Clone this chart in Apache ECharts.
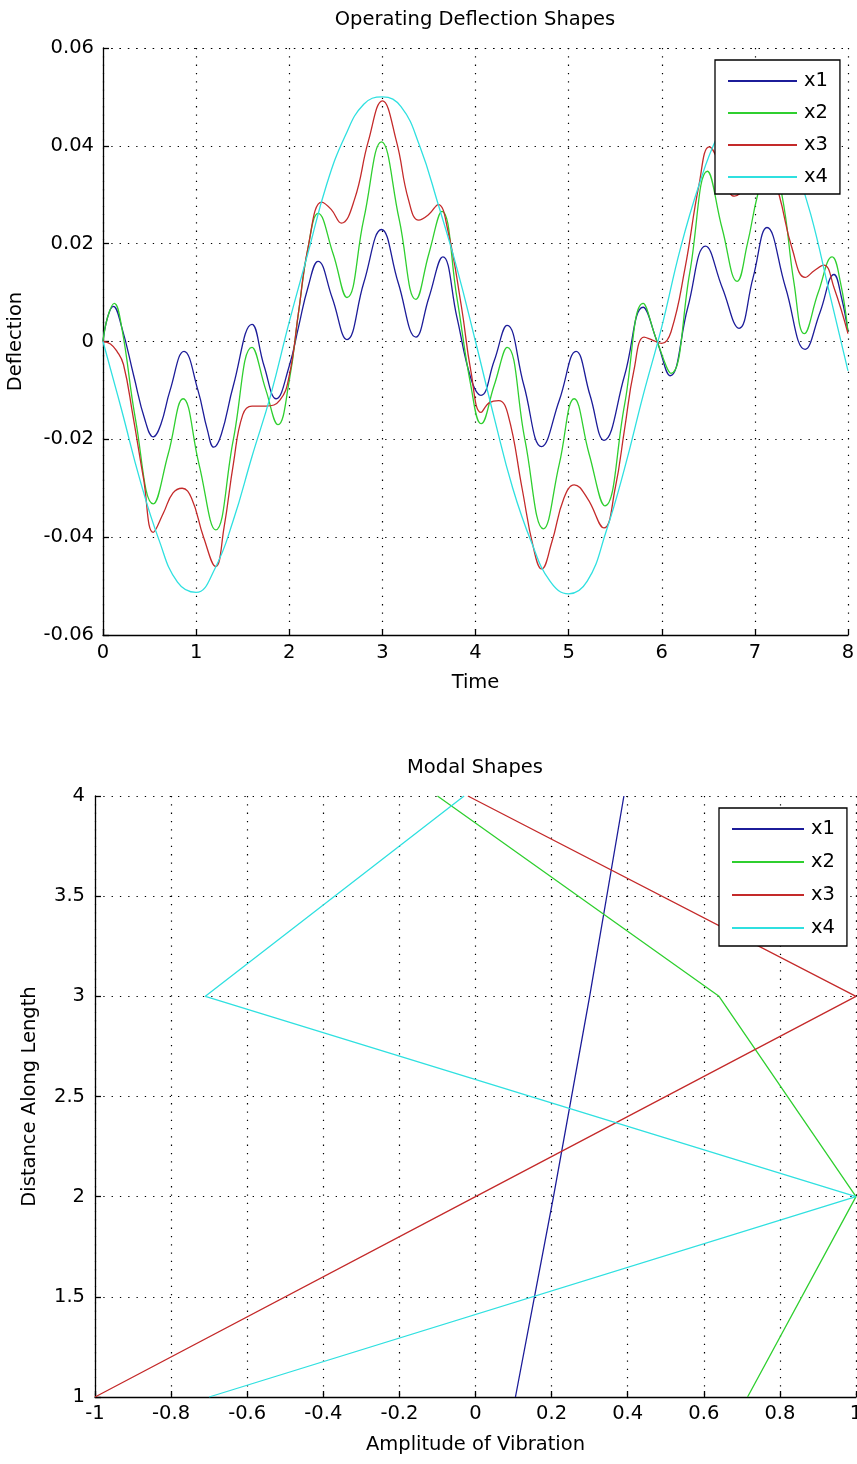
<!DOCTYPE html>
<html><head><meta charset="utf-8">
<script src="https://cdn.jsdelivr.net/npm/echarts@6/dist/echarts.min.js"></script>
<style>html,body{margin:0;padding:0;background:#fff}#c{width:857px;height:1464px}</style>
</head><body><div id="c"></div>
<script>
// ---------- Top chart: Operating Deflection Shapes (time, deflection) ----------
const seriesNames = ['x1', 'x2', 'x3', 'x4'];
const timeTicks = [0, 1, 2, 3, 4, 5, 6, 7, 8];
const deflectionTicks = [-0.06, -0.04, -0.02, 0, 0.02, 0.04, 0.06];

const odsX1 = [[0,0],[0.05,0.005],[0.11,0.0072],[0.2,0.003],[0.33,-0.007],[0.45,-0.016],[0.54,-0.0195],[0.62,-0.017],[0.72,-0.010],[0.87,-0.002],[1.02,-0.010],[1.12,-0.018],[1.19,-0.0216],[1.27,-0.019],[1.4,-0.009],[1.6,0.0035],[1.73,-0.005],[1.86,-0.0117],[2.0,-0.005],[2.1,0.003],[2.2,0.011],[2.31,0.0164],[2.46,0.009],[2.62,0.0004],[2.8,0.012],[2.99,0.0229],[3.17,0.012],[3.36,0.0009],[3.5,0.009],[3.65,0.0173],[3.8,0.005],[3.95,-0.0075],[4.06,-0.011],[4.2,-0.004],[4.34,0.0033],[4.52,-0.009],[4.71,-0.0215],[4.9,-0.012],[5.08,-0.002],[5.23,-0.011],[5.38,-0.0202],[5.6,-0.007],[5.8,0.007],[5.95,0.0],[6.09,-0.007],[6.28,0.007],[6.47,0.0195],[6.65,0.011],[6.83,0.0027],[6.98,0.013],[7.13,0.0233],[7.33,0.011],[7.54,-0.0016],[7.7,0.006],[7.85,0.0137],[7.93,0.009],[8.0,0.002]];
const odsX2 = [[0,0],[0.05,0.005],[0.12,0.0078],[0.2,0.003],[0.35,-0.016],[0.54,-0.0332],[0.7,-0.023],[0.86,-0.0117],[1.03,-0.025],[1.21,-0.0385],[1.4,-0.020],[1.6,-0.0012],[1.75,-0.010],[1.88,-0.017],[2.0,-0.008],[2.1,0.006],[2.2,0.019],[2.31,0.0262],[2.47,0.018],[2.62,0.009],[2.8,0.025],[2.99,0.0408],[3.18,0.025],[3.36,0.0086],[3.5,0.018],[3.64,0.0266],[3.8,0.009],[3.95,-0.009],[4.06,-0.0168],[4.2,-0.009],[4.34,-0.0012],[4.53,-0.020],[4.73,-0.0383],[4.9,-0.025],[5.06,-0.0117],[5.22,-0.023],[5.39,-0.0336],[5.6,-0.013],[5.8,0.0078],[5.95,0.0],[6.1,-0.0065],[6.3,0.014],[6.49,0.0348],[6.65,0.023],[6.81,0.0123],[6.92,0.020],[7.03,0.030],[7.16,0.038],[7.29,0.030],[7.42,0.012],[7.53,0.0016],[7.68,0.010],[7.83,0.0173],[7.92,0.012],[8.0,0.002]];
const odsX3 = [[0,0],[0.08,-0.0005],[0.15,-0.002],[0.22,-0.0047],[0.32,-0.015],[0.435,-0.028],[0.54,-0.039],[0.65,-0.035],[0.75,-0.031],[0.85,-0.030],[0.95,-0.032],[1.08,-0.040],[1.21,-0.046],[1.3,-0.038],[1.4,-0.025],[1.5,-0.015],[1.6,-0.0132],[1.75,-0.0132],[1.9,-0.012],[2.0,-0.007],[2.1,0.006],[2.2,0.019],[2.35,0.0285],[2.45,0.027],[2.56,0.0242],[2.7,0.029],[2.85,0.041],[3.0,0.0492],[3.15,0.041],[3.28,0.029],[3.39,0.0248],[3.5,0.026],[3.6,0.028],[3.7,0.023],[3.85,0.007],[3.95,-0.006],[4.06,-0.0145],[4.15,-0.0125],[4.25,-0.0121],[4.35,-0.015],[4.5,-0.030],[4.62,-0.042],[4.71,-0.0465],[4.82,-0.041],[4.95,-0.032],[5.06,-0.0293],[5.2,-0.032],[5.38,-0.0381],[5.5,-0.030],[5.6,-0.018],[5.7,-0.006],[5.81,0.0009],[5.9,0.0003],[6.0,-0.0004],[6.1,0.002],[6.25,0.015],[6.4,0.032],[6.51,0.0398],[6.65,0.035],[6.78,0.0297],[6.92,0.032],[7.05,0.036],[7.18,0.034],[7.26,0.030],[7.4,0.019],[7.54,0.0131],[7.64,0.0145],[7.74,0.0156],[7.85,0.011],[8.0,0.0016]];
const odsX4 = [[0,0],[0.2,-0.014],[0.4,-0.0285],[0.6,-0.0405],[0.8,-0.0492],[1.0,-0.0513],[1.2,-0.0465],[1.4,-0.0365],[1.6,-0.0235],[1.8,-0.011],[2.0,0.004],[2.2,0.018],[2.4,0.032],[2.6,0.042],[2.8,0.0485],[3.0,0.050],[3.2,0.048],[3.4,0.040],[3.6,0.028],[3.8,0.015],[4.0,0.0],[4.2,-0.0155],[4.4,-0.030],[4.6,-0.041],[4.8,-0.049],[5.0,-0.0516],[5.2,-0.049],[5.4,-0.039],[5.6,-0.026],[5.8,-0.011],[6.0,0.003],[6.2,0.019],[6.4,0.032],[6.6,0.042],[6.8,0.048],[7.0,0.050],[7.2,0.047],[7.4,0.038],[7.6,0.026],[7.8,0.010],[8.0,-0.006]];

// ---------- Bottom chart: Modal Shapes (amplitude, distance) ----------
const distanceAlongLength = [1, 2, 3, 4];
const modeX1 = [0.105, 0.205, 0.30, 0.39];
const modeX2 = [0.715, 1.0, 0.64, -0.10];
const modeX3 = [-1.0, 0.0, 1.0, -0.02];
const modeX4 = [-0.70, 1.0, -0.71, -0.03];
const amplitudeTicks = [-1, -0.8, -0.6, -0.4, -0.2, 0, 0.2, 0.4, 0.6, 0.8, 1];
const distanceTicks = [1, 1.5, 2, 2.5, 3, 3.5, 4];

const colors = ['#1c1c99', '#2fcf2f', '#c42a2a', '#2fe0e0'];
const FONT = 'DejaVu Sans';
const FS = 19.5;

const odsData = [odsX1, odsX2, odsX3, odsX4];
const modeData = [modeX1, modeX2, modeX3, modeX4];

function fmt(digits) {
  return v => { const r = +v.toFixed(digits); if (Math.abs(r) < 1e-12) return '0'; return digits === 2 ? r.toFixed(2) : String(r); };
}
function axis(gridIndex, ticks, name, nameGap, labelFmt, labelMargin, isY) {
  const a = {
    type: 'value', gridIndex,
    min: ticks[0], max: ticks[ticks.length - 1], interval: ticks[1] - ticks[0],
    name, nameLocation: 'middle', nameGap, nameMoveOverlap: false,
    nameTextStyle: { fontFamily: FONT, fontSize: FS, color: '#000' },
    axisLine: { show: true, onZero: false, lineStyle: { color: '#000', width: 1.3 } },
    axisTick: { show: true, inside: true, length: 6, lineStyle: { color: '#000', width: 1.3 } },
    axisLabel: { color: '#000', fontFamily: FONT, fontSize: FS, margin: labelMargin, formatter: labelFmt, hideOverlap: false },
    splitLine: { show: true, lineStyle: { color: '#000', width: 1.2, type: [1.3, 7] } }
  };
  if (isY) a.nameRotate = 90;
  return a;
}

const series = [];
odsData.forEach((d, i) => series.push({
  name: seriesNames[i], type: 'line', xAxisIndex: 0, yAxisIndex: 0,
  data: d, smooth: 0.45, symbol: 'none', showSymbol: false,
  lineStyle: { color: colors[i], width: 1.3 }, itemStyle: { color: colors[i] }
}));
modeData.forEach((m, i) => series.push({
  name: seriesNames[i], type: 'line', xAxisIndex: 1, yAxisIndex: 1,
  data: distanceAlongLength.map((d, k) => [m[k], d]), symbol: 'none', showSymbol: false,
  lineStyle: { color: colors[i], width: 1.3 }, itemStyle: { color: colors[i] }
}));

function legend(left, top, itemWidth, itemGap, padding) {
  return {
    data: seriesNames, left, top, orient: 'vertical', icon: 'rect',
    itemWidth, itemHeight: 2, itemGap, padding,
    backgroundColor: '#fff', borderColor: '#000', borderWidth: 1.3, borderRadius: 0,
    selectedMode: false,
    textStyle: { fontFamily: FONT, fontSize: FS, color: '#000', lineHeight: 20, padding: [0, 0, 0, 2] }
  };
}

const option = {
  animation: false,
  backgroundColor: '#fff',
  title: [
    { text: 'Operating Deflection Shapes', left: 475, top: 10, textAlign: 'center', padding: 0,
      textStyle: { fontFamily: FONT, fontSize: FS, fontWeight: 'normal', color: '#000' } },
    { text: 'Modal Shapes', left: 475, top: 758, textAlign: 'center', padding: 0,
      textStyle: { fontFamily: FONT, fontSize: FS, fontWeight: 'normal', color: '#000' } }
  ],
  grid: [
    { left: 103, top: 48, width: 745, height: 587, containLabel: false, outerBoundsMode: 'none' },
    { left: 95, top: 796, width: 761, height: 601, containLabel: false, outerBoundsMode: 'none' }
  ],
  xAxis: [
    axis(0, timeTicks, 'Time', 38, fmt(0), 8, false),
    axis(1, amplitudeTicks, 'Amplitude of Vibration', 38, fmt(1), 7, false)
  ],
  yAxis: [
    axis(0, deflectionTicks, 'Deflection', 77, fmt(2), 9, true),
    axis(1, distanceTicks, 'Distance Along Length', 55, fmt(1), 10, true)
  ],
  legend: [
    legend(715, 60, 69, 12, [11, 12, 7, 13]),
    legend(719, 808, 72, 13, [11, 12, 8, 13])
  ],
  series
};

const chart = echarts.init(document.getElementById('c'), null, { renderer: 'canvas' });
chart.setOption(option);
</script>
</body></html>
